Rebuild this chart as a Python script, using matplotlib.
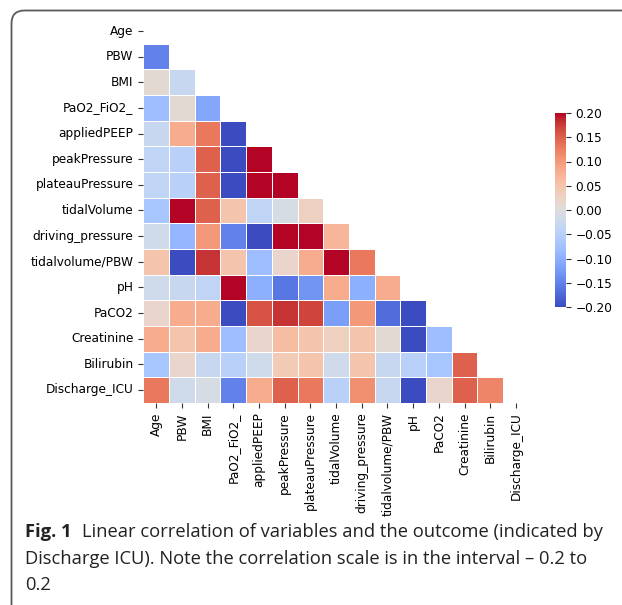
import numpy as np
import matplotlib
matplotlib.use("Agg")
import matplotlib.pyplot as plt
import seaborn as sns
from matplotlib.patches import FancyBboxPatch
from matplotlib.transforms import IdentityTransform

labels = ["Age", "PBW", "BMI", "PaO2_FiO2_", "appliedPEEP", "peakPressure",
          "plateauPressure", "tidalVolume", "driving_pressure", "tidalvolume/PBW",
          "pH", "PaCO2", "Creatinine", "Bilirubin", "Discharge_ICU"]

# lower-triangle values, row by row (row i has i entries)
r_PBW = [-0.15]
r_BMI = [0.01, -0.03]
r_PaO2 = [-0.08, 0.01, -0.11]
r_PEEP = [-0.03, 0.08, 0.13, -0.20]
r_peak = [-0.04, -0.05, 0.15, -0.20, 0.20]
r_plateau = [-0.04, -0.05, 0.15, -0.20, 0.20, 0.20]
r_tidal = [-0.07, 0.20, 0.15, 0.05, -0.04, -0.01, 0.03]
r_driving = [-0.02, -0.09, 0.10, -0.15, -0.20, 0.20, 0.20, 0.07]
r_tvpbw = [0.05, -0.20, 0.18, 0.05, -0.08, 0.02, 0.08, 0.20, 0.13]
r_pH = [-0.02, -0.03, -0.04, 0.20, -0.10, -0.16, -0.13, 0.08, -0.10, 0.08]
r_PaCO2 = [0.02, 0.08, 0.08, -0.20, 0.16, 0.18, 0.17, -0.12, 0.10, -0.17, -0.20]
r_creat = [0.08, 0.05, 0.08, -0.08, 0.02, 0.06, 0.05, 0.03, 0.05, 0.01, -0.20, -0.08]
r_bili = [-0.07, 0.02, -0.03, -0.05, -0.02, 0.04, 0.05, -0.02, 0.05, -0.03, -0.05, -0.07, 0.15]
r_disch = [0.13, -0.02, -0.01, -0.15, 0.08, 0.15, 0.13, -0.05, 0.11, -0.03, -0.20, 0.02, 0.15, 0.12]

rows = [[], r_PBW, r_BMI, r_PaO2, r_PEEP, r_peak, r_plateau, r_tidal, r_driving,
        r_tvpbw, r_pH, r_PaCO2, r_creat, r_bili, r_disch]

n = len(labels)
corr = np.zeros((n, n))
for i, r in enumerate(rows):
    for j, v in enumerate(r):
        corr[i, j] = v
        corr[j, i] = v
mask = np.triu(np.ones((n, n), dtype=bool))

W, H = 622, 605
fig = plt.figure(figsize=(W / 100, H / 100), dpi=100)
ax = fig.add_axes([143.3 / W, 1 - 402.8 / H, 385.5 / W, 384.6 / H])
cax = fig.add_axes([555 / W, 1 - 307 / H, 10.5 / W, 194 / H])

sns.heatmap(corr, mask=mask, cmap="coolwarm", vmin=-0.2, vmax=0.2,
            linewidths=0.5, linecolor="white", ax=ax, cbar_ax=cax,
            xticklabels=labels, yticklabels=labels)
fs = 8.7
ax.tick_params(axis="both", labelsize=fs, length=3.5, width=0.8, color="#333333")
ax.set_xticklabels(labels, rotation=90)
ax.set_yticklabels(labels, rotation=0)
cax.tick_params(labelsize=fs, length=3.5, width=0.8, color="#333333")
cax.set_yticks([-0.2, -0.15, -0.1, -0.05, 0, 0.05, 0.1, 0.15, 0.2])
cax.set_yticklabels(["\u22120.20", "\u22120.15", "\u22120.10", "\u22120.05",
                     "0.00", "0.05", "0.10", "0.15", "0.20"])

# frame around the figure
frame = FancyBboxPatch((11.5, -30), 700, 594.5 + 30, boxstyle="round,pad=0,rounding_size=13",
                       transform=IdentityTransform(), fill=False, edgecolor="#5a5a5a",
                       linewidth=1.3, figure=fig)
fig.patches.append(frame)

cap_font = ["Open Sans", "DejaVu Sans"]
cs = 13.2
x0 = 25 / W
t1 = fig.text(x0, 1 - 532 / H, "Fig. 1", fontsize=cs, fontweight="bold",
              family=cap_font, va="center", ha="left", color="#222222")
fig.canvas.draw()
bb = t1.get_window_extent(renderer=fig.canvas.get_renderer())
fig.text((bb.x1 + 10) / W, 1 - 532 / H,
         "Linear correlation of variables and the outcome (indicated by",
         fontsize=cs, family=cap_font, va="center", ha="left", color="#222222")
fig.text(x0, 1 - 559 / H,
         "Discharge ICU). Note the correlation scale is in the interval \u2013 0.2 to",
         fontsize=cs, family=cap_font, va="center", ha="left", color="#222222")
fig.text(x0, 1 - 585 / H, "0.2", fontsize=cs, family=cap_font, va="center",
         ha="left", color="#222222")

fig.savefig("out.png", dpi=100)
